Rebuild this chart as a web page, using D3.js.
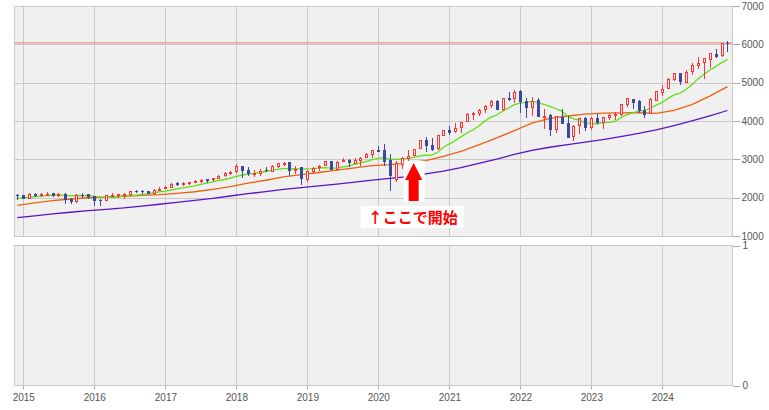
<!DOCTYPE html>
<html><head><meta charset="utf-8">
<script src="https://cdn.jsdelivr.net/npm/d3@7"></script>
<style>
html,body{margin:0;padding:0;background:#fff;}
svg{display:block;}
</style></head><body>
<svg id="c" width="769" height="410"></svg>
<script>
// ---- data (monthly candles, S&P-like index) ----
const months = ["2014-12",
"2015-01","2015-02","2015-03","2015-04","2015-05","2015-06","2015-07","2015-08","2015-09","2015-10","2015-11","2015-12",
"2016-01","2016-02","2016-03","2016-04","2016-05","2016-06","2016-07","2016-08","2016-09","2016-10","2016-11","2016-12",
"2017-01","2017-02","2017-03","2017-04","2017-05","2017-06","2017-07","2017-08","2017-09","2017-10","2017-11","2017-12",
"2018-01","2018-02","2018-03","2018-04","2018-05","2018-06","2018-07","2018-08","2018-09","2018-10","2018-11","2018-12",
"2019-01","2019-02","2019-03","2019-04","2019-05","2019-06","2019-07","2019-08","2019-09","2019-10","2019-11","2019-12",
"2020-01","2020-02","2020-03","2020-04","2020-05","2020-06","2020-07","2020-08","2020-09","2020-10","2020-11","2020-12",
"2021-01","2021-02","2021-03","2021-04","2021-05","2021-06","2021-07","2021-08","2021-09","2021-10","2021-11","2021-12",
"2022-01","2022-02","2022-03","2022-04","2022-05","2022-06","2022-07","2022-08","2022-09","2022-10","2022-11","2022-12",
"2023-01","2023-02","2023-03","2023-04","2023-05","2023-06","2023-07","2023-08","2023-09","2023-10","2023-11","2023-12",
"2024-01","2024-02","2024-03","2024-04","2024-05","2024-06","2024-07","2024-08","2024-09","2024-10","2024-11","2024-12"];

const open = [2066,
2059,1997,2105,2068,2087,2109,2067,2104,1970,1920,2081,2083,
2038,1937,1937,2057,2067,2094,2099,2173,2171,2164,2129,2200,
2252,2286,2380,2362,2389,2416,2431,2477,2474,2521,2583,2645,
2684,2816,2715,2633,2643,2719,2705,2821,2897,2926,2718,2791,
2477,2702,2798,2849,2952,2752,2971,2980,2909,2984,3051,3144,
3245,3236,2974,2498,2869,3039,3106,3288,3507,3386,3296,3646,
3765,3731,3843,3993,4192,4217,4301,4407,4529,4317,4611,4603,
4778,4520,4363,4540,4131,4150,3781,4112,3937,3610,3902,4087,
3853,4070,3963,4102,4167,4183,4450,4579,4531,4285,4201,4559,
4745,4861,5099,5258,5029,5297,5471,5538,5624,5758,5723,6040];

const high = [2094,
2072,2120,2118,2126,2135,2130,2133,2113,1993,2094,2116,2104,
2038,1963,2072,2111,2103,2121,2177,2194,2188,2170,2214,2278,
2301,2372,2401,2398,2419,2454,2484,2491,2519,2583,2658,2695,
2873,2836,2802,2717,2742,2791,2848,2917,2941,2940,2815,2800,
2709,2813,2860,2950,2954,2964,3028,3014,3022,3050,3154,3248,
3338,3394,3137,2955,3069,3233,3280,3515,3588,3550,3646,3760,
3871,3950,3984,4219,4238,4302,4430,4537,4546,4608,4744,4809,
4819,4595,4637,4593,4308,4178,4140,4325,4119,3905,4080,4101,
4094,4195,4111,4170,4231,4448,4607,4585,4541,4394,4588,4793,
4931,5111,5265,5264,5342,5524,5670,5652,5767,5878,6044,6100];

const low = [1973,
1988,1981,2040,2048,2068,2056,2044,1867,1872,1894,2019,1993,
1812,1810,1937,2034,2026,1992,2074,2148,2119,2115,2084,2187,
2245,2272,2322,2329,2353,2406,2408,2417,2447,2520,2557,2606,
2682,2533,2586,2554,2595,2692,2699,2796,2864,2604,2631,2347,
2444,2682,2722,2849,2751,2729,2952,2822,2892,2856,3051,3070,
3215,2856,2192,2447,2767,2966,3101,3285,3209,3234,3280,3633,
3663,3726,3723,3993,4057,4164,4233,4368,4306,4279,4560,4495,
4223,4115,4158,4124,3810,3637,3722,3955,3584,3492,3698,3764,
3794,3943,3809,4049,4048,4166,4385,4335,4239,4104,4198,4547,
4682,4854,5057,4954,5011,5234,5391,5119,5403,5674,5697,5832];

const close = [2059,
1995,2105,2068,2086,2107,2063,2104,1972,1920,2079,2080,2044,
1940,1932,2060,2065,2097,2099,2174,2171,2168,2126,2199,2239,
2279,2364,2363,2384,2412,2423,2470,2472,2519,2575,2648,2674,
2824,2714,2641,2648,2705,2718,2816,2902,2914,2712,2760,2507,
2704,2784,2834,2946,2752,2942,2980,2926,2977,3038,3141,3231,
3226,2954,2585,2912,3044,3100,3271,3500,3363,3270,3622,3756,
3714,3811,3973,4181,4204,4298,4395,4523,4308,4605,4567,4766,
4516,4374,4530,4132,4132,3785,4130,3955,3586,3872,4080,3840,
4077,3970,4109,4169,4180,4450,4589,4508,4288,4194,4568,4770,
4846,5096,5254,5036,5278,5460,5522,5648,5762,5705,6032,6038];

// short moving average (green), one value per month
const maShort = [1979.8,
1992.2,2012.3,2024.2,2041.5,2053.0,2063.1,2072.6,2062.0,2046.6,2056.0,2053.3,2050.6,
2034.5,2015.0,2014.7,2010.4,2024.2,2044.1,2054.6,2064.6,2078.5,2099.1,2128.7,2148.6,
2172.4,2202.0,2231.3,2254.7,2281.5,2309.8,2348.1,2378.4,2409.6,2442.5,2474.0,2508.6,
2557.4,2591.0,2615.1,2634.9,2660.8,2683.0,2709.7,2738.0,2764.7,2752.2,2757.4,2742.5,
2748.7,2757.5,2770.4,2784.8,2768.2,2771.3,2801.1,2819.6,2871.8,2908.9,2948.5,2992.5,
3023.6,3046.0,3006.4,2998.8,3011.9,3025.6,3051.6,3091.5,3106.2,3111.1,3185.3,3315.5,
3404.5,3489.8,3586.7,3687.8,3766.0,3869.9,3994.9,4095.0,4156.3,4255.3,4339.3,4427.4,
4464.6,4483.4,4509.3,4480.1,4436.7,4378.7,4325.9,4257.9,4126.7,4055.2,4022.5,3945.8,
3939.6,3921.6,3957.6,3962.0,3987.0,4083.0,4162.7,4210.2,4260.0,4273.1,4339.5,4412.9,
4488.0,4589.8,4679.2,4728.8,4814.3,4944.6,5092.2,5212.3,5322.6,5418.1,5522.1,5609.1];

// medium (orange) and long (purple) moving averages, read every quarter
const maQuarters = ["2014-12",
"2015-03","2015-06","2015-09","2015-12","2016-03","2016-06","2016-09","2016-12",
"2017-03","2017-06","2017-09","2017-12","2018-03","2018-06","2018-09","2018-12",
"2019-03","2019-06","2019-09","2019-12","2020-03","2020-06","2020-09","2020-12",
"2021-03","2021-06","2021-09","2021-12","2022-03","2022-06","2022-09","2022-12",
"2023-03","2023-06","2023-09","2023-12","2024-03","2024-06","2024-09","2024-12"];
const maMid = [1798.4,
1864.4,1923.6,1965.1,1998.2,2015.6,2036.1,2061.4,2078.9,
2113.8,2153.9,2215.0,2285.5,2379.1,2454.6,2542.8,2601.8,
2656.7,2715.9,2775.1,2838.2,2862.6,2903.6,2966.3,3077.5,
3209.8,3378.2,3559.1,3747.9,3941.8,4066.5,4130.5,4178.2,
4205.6,4210.5,4217.1,4200.2,4274.2,4429.3,4648.6,4898.0];
const maLong = [1478.9,
1525.9,1575.1,1620.1,1663.2,1696.4,1733.6,1781.4,1828.2,
1876.8,1929.3,1983.2,2043.9,2103.9,2157.8,2218.4,2261.2,
2308.0,2355.8,2405.4,2459.9,2503.1,2549.8,2618.8,2692.9,
2785.6,2892.7,3004.5,3127.5,3234.4,3314.9,3385.0,3449.9,
3516.2,3595.0,3674.3,3766.8,3881.4,4000.3,4134.4,4273.9];

const priceTicks = [1000,2000,3000,4000,5000,6000,7000];
const subTicks = [0,1];
const yearTicks = ["2015","2016","2017","2018","2019","2020","2021","2022","2023","2024"];
const refLevel = 6040;
const noteMonth = "2020-07";
const noteText = "↑ここで開始";

// ---- drawing ----
const svg = d3.select("#c");
const parseM = d3.timeParse("%Y-%m");
const parseY = d3.timeParse("%Y");
const L = 14.5, R = 732.5, T1 = 6, B1 = 236, T2 = 245.5, B2 = 385.5;
const x = d3.scaleTime().domain([parseY("2015"), parseY("2024")]).range([23.3, 662.3]);
const y = d3.scaleLinear().domain([1000, 7000]).range([B1, T1]);
const y2 = d3.scaleLinear().domain([0, 1]).range([B2, T2]);

const GRID = "#c9c9c9", BG = "#f0f0f0", RED = "#ff3333", BLUE = "#3b4aa0", TXT = "#555";
const FONT = "'Liberation Sans', Arial, sans-serif";

svg.append("defs").append("clipPath").attr("id", "clip1")
  .append("rect").attr("x", L).attr("y", T1).attr("width", R - L).attr("height", B1 - T1);

// panel backgrounds
svg.append("rect").attr("x", L).attr("y", T1 + 0.5).attr("width", R - L).attr("height", B1 - T1)
  .attr("fill", BG);
svg.append("rect").attr("x", L).attr("y", T2).attr("width", R - L).attr("height", B2 - T2)
  .attr("fill", BG);

const grid = svg.append("g").attr("stroke", GRID).attr("stroke-width", 1).attr("shape-rendering", "crispEdges");
yearTicks.forEach(t => {
  const gx = Math.round(x(parseY(t))) + 0.5;
  grid.append("line").attr("x1", gx).attr("x2", gx).attr("y1", T1 + 0.5).attr("y2", B1 + 0.5);
  grid.append("line").attr("x1", gx).attr("x2", gx).attr("y1", T2).attr("y2", B2);
});
priceTicks.forEach(v => {
  const gy = Math.round(y(v)) + 0.5;
  grid.append("line").attr("x1", L).attr("x2", R).attr("y1", gy).attr("y2", gy);
});
// borders
grid.append("rect").attr("x", L).attr("y", T1 + 0.5).attr("width", R - L).attr("height", B1 - T1).attr("fill", "none");
grid.append("rect").attr("x", L).attr("y", T2).attr("width", R - L).attr("height", B2 - T2).attr("fill", "none");

// reference level line
svg.append("line").attr("x1", L).attr("x2", R).attr("y1", y(refLevel)).attr("y2", y(refLevel))
  .attr("stroke", "#f58a8a").attr("stroke-width", 1.2);

const plot = svg.append("g").attr("clip-path", "url(#clip1)");

// moving averages
const lineGen = d3.line().x(d => x(d[0])).y(d => y(d[1]));
const longPts = maQuarters.map((m, i) => [parseM(m), maLong[i]]);
const midPts = maQuarters.map((m, i) => [parseM(m), maMid[i]]);
const shortPts = months.map((m, i) => [parseM(m), maShort[i]]);
plot.append("path").attr("d", lineGen(longPts)).attr("fill", "none").attr("stroke", "#5a14c8").attr("stroke-width", 1.3);
plot.append("path").attr("d", lineGen(midPts)).attr("fill", "none").attr("stroke", "#ec6010").attr("stroke-width", 1.3);
plot.append("path").attr("d", lineGen(shortPts)).attr("fill", "none").attr("stroke", "#5ee010").attr("stroke-width", 1.3);

// candles
const candles = plot.append("g").attr("shape-rendering", "crispEdges");
months.forEach((m, i) => {
  const px = Math.round(x(parseM(m)));
  const o = open[i], c = close[i], up = c > o;
  const col = up ? RED : BLUE;
  candles.append("line").attr("x1", px + 0.5).attr("x2", px + 0.5)
    .attr("y1", Math.round(y(high[i]))).attr("y2", Math.round(y(low[i])) + 1)
    .attr("stroke", col).attr("stroke-width", 1);
  const yt = Math.round(y(Math.max(o, c))), yb = Math.round(y(Math.min(o, c)));
  if (up) {
    candles.append("rect").attr("x", px - 0.5).attr("y", yt + 0.5)
      .attr("width", 2).attr("height", Math.max(1, yb - yt))
      .attr("fill", BG).attr("stroke", col).attr("stroke-width", 1);
  } else {
    candles.append("rect").attr("x", px - 1).attr("y", yt)
      .attr("width", 3).attr("height", Math.max(1, yb - yt + 1))
      .attr("fill", col);
  }
});

// axes
const axR = svg.append("g").attr("transform", `translate(${R},0)`)
  .call(d3.axisRight(y).tickValues(priceTicks).tickSize(7).tickPadding(2).tickFormat(d3.format("d")));
const axR2 = svg.append("g").attr("transform", `translate(${R},0)`)
  .call(d3.axisRight(y2).tickValues(subTicks).tickSize(7).tickPadding(3).tickFormat(d3.format("d")));
const axB = svg.append("g").attr("transform", `translate(0,${B2})`)
  .call(d3.axisBottom(x).tickValues(yearTicks.map(parseY)).tickSize(3).tickPadding(5).tickFormat(d3.timeFormat("%Y")));
[axR, axR2, axB].forEach(a => {
  a.select(".domain").remove();
  a.selectAll(".tick line").attr("stroke", "#aaa").attr("shape-rendering", "crispEdges");
  a.selectAll("text").attr("fill", TXT).style("font-family", FONT).style("font-size", "10px");
});

// annotation
const ax = x(parseM(noteMonth));
const ann = svg.append("g");
ann.append("rect").attr("x", ax - 10).attr("y", 161).attr("width", 21).attr("height", 41).attr("fill", "#fff");
ann.append("path").attr("fill", "#ff0000")
  .attr("d", `M${ax},163 L${ax + 8.6},180 L${ax + 5},180 L${ax + 5},201 L${ax - 5},201 L${ax - 5},180 L${ax - 8.6},180 Z`);
ann.append("rect").attr("x", ax - 53).attr("y", 206).attr("width", 103).attr("height", 22).attr("fill", "#fff");
ann.append("text").attr("x", ax - 1).attr("y", 222.5).attr("text-anchor", "middle")
  .attr("fill", "#ff0000").style("font-family", "'Noto Sans CJK JP', sans-serif")
  .style("font-weight", "bold").style("font-size", "15px").text(noteText);
</script>
</body></html>
